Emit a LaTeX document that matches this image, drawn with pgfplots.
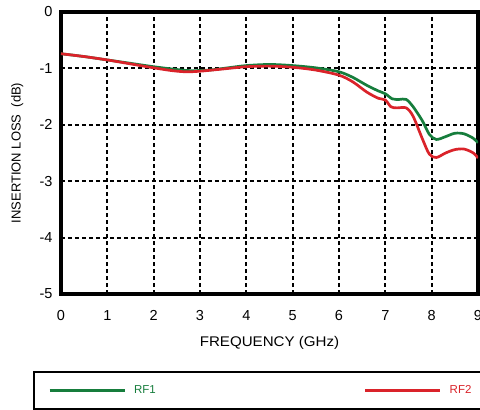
\documentclass[border=0pt]{standalone}
\usepackage{fontspec}
\setmainfont{Liberation Sans}
\usepackage{graphicx}
\usepackage{pgfplots}
\pgfplotsset{compat=1.18}
\usetikzlibrary{calc}
\definecolor{rfgreen}{RGB}{22,125,60}
\definecolor{rfred}{RGB}{218,35,42}
\begin{document}
\begin{tikzpicture}
\begin{axis}[
  name=ax, scale only axis, width=417pt, height=282pt,
  xmin=0, xmax=9, ymin=-5, ymax=0,
  xtick={0,1,...,9}, ytick={-5,-4,...,0},
  grid=major,
  major grid style={black, line width=2pt, dash pattern=on 4pt off 3pt},
  axis line style={line width=3.2pt},
  major tick length=0pt,
  /pgf/number format/assume math mode=true,
  tick label style={font=\fontsize{14.5}{16}\selectfont},
  xticklabel style={yshift=-13pt},
  yticklabel style={xshift=-5pt},
  xlabel={\scalebox{1.08}[1]{FREQUENCY (GHz)}},
  ylabel={INSERTION LOSS\ \ (dB)},
  xlabel style={font=\fontsize{14}{16}\selectfont, at={(axis description cs:0.5,-0.174)}, anchor=center},
  ylabel style={font=\fontsize{13}{15}\selectfont, at={(axis description cs:-0.105,0.5)}, anchor=center},
  legend columns=2,
  legend image code/.code={\draw[#1, line width=3pt] (0pt,0pt) -- (75pt,0pt);},
  legend style={at={(-0.0671,-0.273)}, anchor=north west, draw=black, line width=2pt,
    font=\fontsize{11.5}{13}\selectfont, inner xsep=14pt, inner ysep=13.5pt,
    nodes={inner sep=0pt},
    /tikz/every odd column/.append style={column sep=8pt},
    /tikz/every even column/.append style={column sep=208pt}},
]
\addplot[rfgreen, line width=2.7pt, smooth, tension=0.5] coordinates {
(0,-0.74) (0.5,-0.79) (1,-0.85) (1.5,-0.91) (2,-0.97) (2.5,-1.02) (2.8,-1.04)
(3.2,-1.03) (3.6,-0.99) (4.0,-0.95) (4.5,-0.93) (5.0,-0.95) (5.5,-0.99) (6.0,-1.06)
(6.3,-1.16) (6.6,-1.30) (6.85,-1.40) (7.0,-1.45) (7.15,-1.54) (7.3,-1.55) (7.45,-1.55)
(7.6,-1.68) (7.8,-1.93) (7.95,-2.17) (8.1,-2.26) (8.3,-2.21) (8.5,-2.15) (8.7,-2.16)
(8.9,-2.24) (9.0,-2.32)};
\addlegendentry{\textcolor{rfgreen}{RF1}}
\addplot[rfred, line width=2.7pt, smooth, tension=0.5] coordinates {
(0,-0.74) (0.5,-0.79) (1,-0.85) (1.5,-0.92) (2,-0.99) (2.4,-1.04) (2.7,-1.06)
(3.0,-1.05) (3.5,-1.01) (4.0,-0.97) (4.5,-0.96) (5.0,-0.98) (5.5,-1.03) (6.0,-1.12)
(6.3,-1.24) (6.6,-1.42) (6.85,-1.53) (7.0,-1.56) (7.12,-1.68) (7.25,-1.70) (7.45,-1.70)
(7.6,-1.85) (7.8,-2.25) (7.95,-2.52) (8.1,-2.58) (8.3,-2.50) (8.5,-2.44) (8.7,-2.43)
(8.9,-2.50) (9.0,-2.59)};
\addlegendentry{\textcolor{rfred}{RF2}\hspace*{20pt}}
\coordinate (bl) at (rel axis cs:0,0);
\coordinate (tr) at (rel axis cs:1,1);
\end{axis}
\pgfresetboundingbox
\path[use as bounding box] ($(bl)+(-61pt,-116pt)$) rectangle ($(tr)+(2pt,12pt)$);
\end{tikzpicture}
\end{document}
